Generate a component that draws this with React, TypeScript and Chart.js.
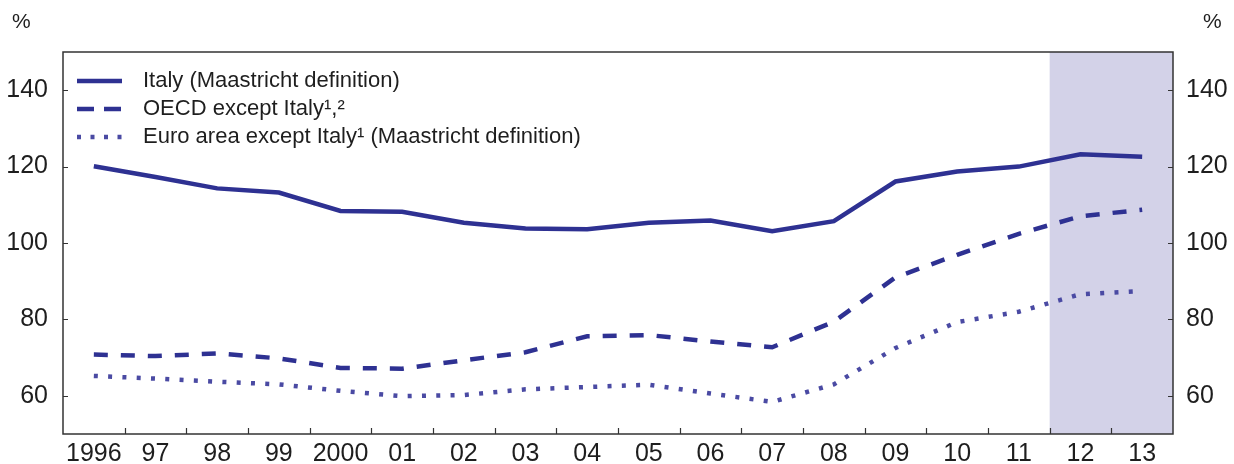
import React, { useEffect, useRef } from 'react';
import { Chart, registerables } from 'chart.js';

Chart.register(...registerables);

const categories = ['1996', '97', '98', '99', '2000', '01', '02', '03', '04', '05', '06', '07', '08', '09', '10', '11', '12', '13'];
const italy = [120.1, 117.3, 114.3, 113.2, 108.4, 108.2, 105.3, 103.8, 103.6, 105.3, 105.9, 103.1, 105.7, 116.1, 118.7, 120.0, 123.2, 122.6];
const oecd = [70.8, 70.4, 71.1, 69.8, 67.3, 67.1, 69.3, 71.4, 75.6, 75.9, 74.2, 72.7, 79.4, 91.0, 96.9, 102.4, 107.0, 108.7];
const euro = [65.2, 64.5, 63.7, 63.0, 61.3, 59.9, 60.2, 61.7, 62.3, 62.9, 60.6, 58.4, 63.0, 72.5, 79.3, 82.0, 86.6, 87.4];
const yTicks = [60, 80, 100, 120, 140];
const legendLabels = ['Italy (Maastricht definition)', 'OECD except Italy\u00b9,\u00b2', 'Euro area except Italy\u00b9 (Maastricht definition)'];
const projectionStartLabel = '12';

const DARK = '#2e3192';
const DOT = '#4a4aa3';
const SHADE = '#d3d2e8';
const TEXT = '#1e1e1e';
const FONT = '"Liberation Sans", Arial, Helvetica, sans-serif';

const decorPlugin = {
  id: 'decor',
  beforeDatasetsDraw(chart: any) {
    const { ctx, chartArea } = chart;
    const x = chart.scales.x;
    const idx = categories.indexOf(projectionStartLabel);
    const x0 = (x.getPixelForValue(idx - 1) + x.getPixelForValue(idx)) / 2;
    ctx.save();
    ctx.fillStyle = SHADE;
    ctx.fillRect(x0, chartArea.top, chartArea.right - x0, chartArea.bottom - chartArea.top);
    ctx.restore();
  },
  afterDraw(chart: any) {
    const { ctx, chartArea } = chart;
    const { left, right, top, bottom } = chartArea;
    const x = chart.scales.x;
    const y = chart.scales.y;
    ctx.save();
    ctx.strokeStyle = '#333333';
    ctx.lineWidth = 1.5;
    ctx.strokeRect(left, top, right - left, bottom - top);
    ctx.lineWidth = 1.2;
    ctx.beginPath();
    yTicks.forEach((v) => {
      const py = Math.round(y.getPixelForValue(v)) + 0.5;
      ctx.moveTo(left, py);
      ctx.lineTo(left + 5, py);
      ctx.moveTo(right, py);
      ctx.lineTo(right - 5, py);
    });
    for (let i = 0; i < categories.length - 1; i++) {
      const px = Math.round((x.getPixelForValue(i) + x.getPixelForValue(i + 1)) / 2) + 0.5;
      ctx.moveTo(px, bottom);
      ctx.lineTo(px, bottom - 6);
    }
    ctx.stroke();

    // percent labels
    ctx.fillStyle = TEXT;
    ctx.font = `21px ${FONT}`;
    ctx.textBaseline = 'middle';
    ctx.textAlign = 'left';
    ctx.fillText('%', 12, 22);
    ctx.fillText('%', 1203, 22);

    // legend
    const styles = [
      { dash: [] as number[], color: DARK },
      { dash: [17, 10], color: DARK },
      { dash: [4, 9.5], color: DOT },
    ];
    const rows = [81, 109, 137];
    ctx.font = `22px ${FONT}`;
    rows.forEach((ry, i) => {
      ctx.beginPath();
      ctx.setLineDash(styles[i].dash);
      ctx.lineCap = 'butt';
      ctx.strokeStyle = styles[i].color;
      ctx.lineWidth = 4.5;
      ctx.moveTo(77, ry);
      ctx.lineTo(122, ry);
      ctx.stroke();
      ctx.setLineDash([]);
      ctx.fillStyle = TEXT;
      ctx.fillText(legendLabels[i], 143, ry);
    });
    ctx.restore();
  },
};

export default function App() {
  const ref = useRef<HTMLCanvasElement | null>(null);
  useEffect(() => {
    if (!ref.current) return;
    const tickFont = { family: FONT, size: 25 };
    const yAxisCommon = {
      type: 'linear' as const,
      min: 50,
      max: 150,
      grid: { display: false, drawTicks: false },
      border: { display: false },
      afterBuildTicks: (scale: any) => {
        scale.ticks = yTicks.map((v) => ({ value: v }));
      },
    };
    const chart = new Chart(ref.current, {
      type: 'line',
      data: {
        labels: categories,
        datasets: [
          {
            label: legendLabels[0],
            data: italy,
            borderColor: DARK,
            borderWidth: 4.5,
            pointRadius: 0,
            tension: 0,
            yAxisID: 'y',
          },
          {
            label: legendLabels[1],
            data: oecd,
            borderColor: DARK,
            borderWidth: 4.5,
            borderDash: [14, 13],
            borderCapStyle: 'butt',
            pointRadius: 0,
            tension: 0,
            yAxisID: 'y',
          },
          {
            label: legendLabels[2],
            data: euro,
            borderColor: DOT,
            borderWidth: 4.5,
            borderDash: [4, 10.3],
            borderCapStyle: 'butt',
            pointRadius: 0,
            tension: 0,
            yAxisID: 'y',
          },
        ],
      },
      options: {
        animation: false,
        responsive: false,
        maintainAspectRatio: false,
        layout: { padding: { top: 52, left: 0, right: 0, bottom: 0 } },
        plugins: { legend: { display: false }, tooltip: { enabled: false } },
        scales: {
          x: {
            offset: true,
            grid: { display: false, drawTicks: false },
            border: { display: false },
            ticks: { font: tickFont, color: TEXT, padding: 5, maxRotation: 0, autoSkip: false },
            afterFit: (scale: any) => {
              scale.height = 27;
            },
          },
          y: {
            ...yAxisCommon,
            position: 'left',
            ticks: { font: tickFont, color: TEXT, padding: 15 },
            afterFit: (scale: any) => {
              scale.width = 63;
            },
          },
          y2: {
            ...yAxisCommon,
            position: 'right',
            ticks: { font: tickFont, color: TEXT, padding: 13 },
            afterFit: (scale: any) => {
              scale.width = 61;
            },
          },
        },
      },
      plugins: [decorPlugin],
    });
    return () => chart.destroy();
  }, []);
  return (
    <div style={{ position: 'fixed', left: 0, top: 0, width: 1234, height: 464, background: '#fff' }}>
      <canvas ref={ref} width={1234} height={464} style={{ width: 1234, height: 464, display: 'block' }} />
    </div>
  );
}
